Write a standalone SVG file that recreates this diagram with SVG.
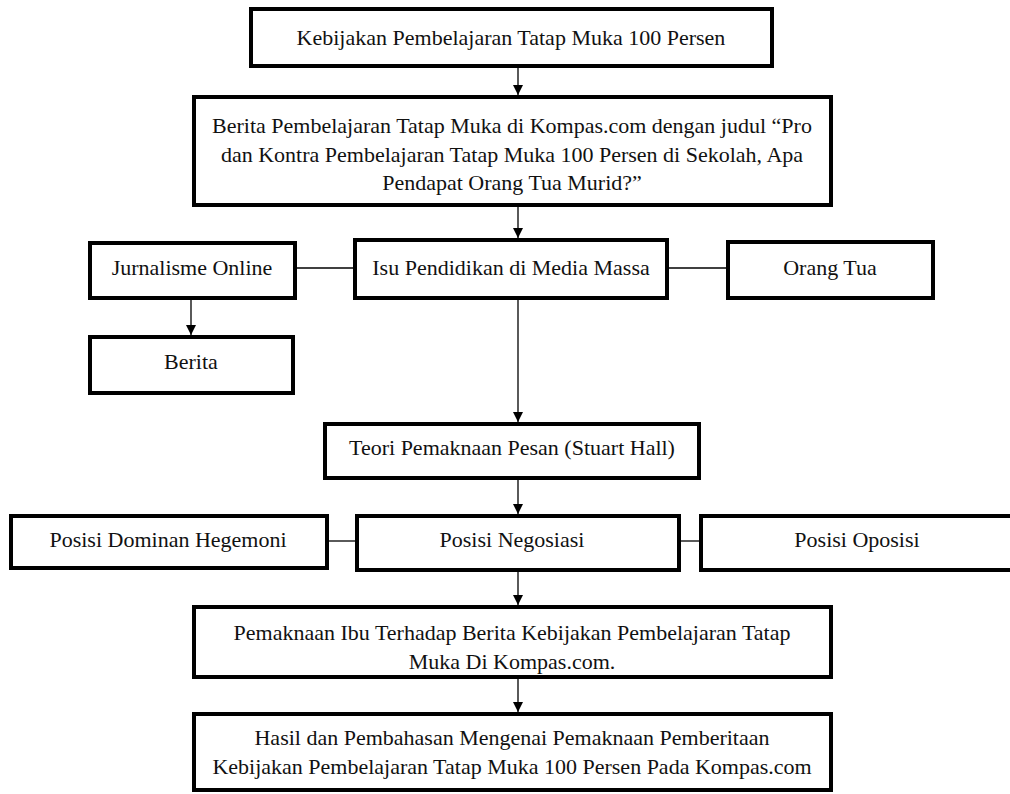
<svg xmlns="http://www.w3.org/2000/svg" width="1010" height="794" viewBox="0 0 1010 794">
<style>
.box{fill:#fff;stroke:#000;stroke-width:4}
.t{font-family:"Liberation Serif","Times New Roman",serif;font-size:22px;fill:#111;text-anchor:middle}
.c{stroke:#000;stroke-width:1.3;fill:none}
</style>
<defs>
<marker id="ah" viewBox="0 0 10 10" refX="10" refY="5" markerWidth="10" markerHeight="10" markerUnits="userSpaceOnUse" orient="auto">
<path d="M0,0 L10,5 L0,10 Z" fill="#000"/>
</marker>
</defs>
<rect width="1010" height="794" fill="#fff"/>
<g id="connectors">
<line class="c" x1="518" y1="67" x2="518" y2="95" marker-end="url(#ah)"/>
<line class="c" x1="518" y1="207" x2="518" y2="238" marker-end="url(#ah)"/>
<line class="c" x1="296" y1="268" x2="353" y2="268"/>
<line class="c" x1="668" y1="268" x2="727" y2="268"/>
<line class="c" x1="191" y1="298" x2="191" y2="335" marker-end="url(#ah)"/>
<line class="c" x1="518" y1="298" x2="518" y2="422" marker-end="url(#ah)"/>
<line class="c" x1="518" y1="478" x2="518" y2="514" marker-end="url(#ah)"/>
<line class="c" x1="328" y1="541" x2="356" y2="541"/>
<line class="c" x1="680" y1="541" x2="700" y2="541"/>
<line class="c" x1="518" y1="570" x2="518" y2="605" marker-end="url(#ah)"/>
<line class="c" x1="518" y1="677" x2="518" y2="712" marker-end="url(#ah)"/>
</g>
<g id="n1"><rect class="box" x="251" y="9" width="521" height="57"/><text class="t" x="511" y="45">Kebijakan Pembelajaran Tatap Muka 100 Persen</text></g>
<g id="n2"><rect class="box" x="194" y="97" width="637" height="108"/>
<text class="t" x="512" y="133">Berita Pembelajaran Tatap Muka di Kompas.com dengan judul “Pro</text>
<text class="t" x="512" y="162">dan Kontra Pembelajaran Tatap Muka 100 Persen di Sekolah, Apa</text>
<text class="t" x="512" y="190">Pendapat Orang Tua Murid?”</text></g>
<g id="n3"><rect class="box" x="90" y="243" width="205" height="55"/><text class="t" x="192" y="275">Jurnalisme Online</text></g>
<g id="n4"><rect class="box" x="355" y="240" width="312" height="58"/><text class="t" x="511" y="275">Isu Pendidikan di Media Massa</text></g>
<g id="n5"><rect class="box" x="728" y="242" width="205" height="56"/><text class="t" x="830" y="275">Orang Tua</text></g>
<g id="n6"><rect class="box" x="90" y="337" width="203" height="56"/><text class="t" x="191" y="369">Berita</text></g>
<g id="n7"><rect class="box" x="325" y="424" width="374" height="54"/><text class="t" x="512" y="455">Teori Pemaknaan Pesan (Stuart Hall)</text></g>
<g id="n8"><rect class="box" x="11" y="516" width="316" height="52"/><text class="t" x="168" y="547">Posisi Dominan Hegemoni</text></g>
<g id="n9"><rect class="box" x="357" y="516" width="322" height="54"/><text class="t" x="512" y="547">Posisi Negosiasi</text></g>
<g id="n10"><rect class="box" x="701" y="516" width="320" height="54"/><text class="t" x="857" y="547">Posisi Oposisi</text></g>
<g id="n11"><rect class="box" x="194" y="607" width="637" height="70"/>
<text class="t" x="512" y="640">Pemaknaan Ibu Terhadap Berita Kebijakan Pembelajaran Tatap</text>
<text class="t" x="512" y="669">Muka Di Kompas.com.</text></g>
<g id="n12"><rect class="box" x="194" y="714" width="637" height="76"/>
<text class="t" x="512" y="745">Hasil dan Pembahasan Mengenai Pemaknaan Pemberitaan</text>
<text class="t" x="512" y="774">Kebijakan Pembelajaran Tatap Muka 100 Persen Pada Kompas.com</text></g>
</svg>
